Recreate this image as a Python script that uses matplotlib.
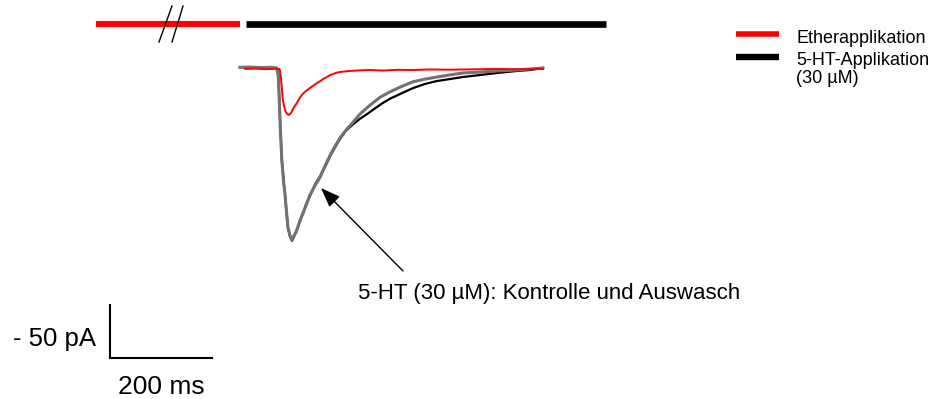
import matplotlib
matplotlib.use("Agg")
import matplotlib.pyplot as plt

plt.rcParams["font.family"] = ["Liberation Sans", "DejaVu Sans"]

# Whole-cell currents, time in ms from start of sweep, current in pA
t_ctrl = [0, 20, 40, 60, 72, 75, 77, 79, 82, 86, 88, 90, 94, 98, 102, 106, 110,
          114, 118, 124, 130, 137, 147, 157, 167, 177, 186, 196, 208, 222, 235,
          255, 275, 294, 314, 339, 363, 386, 412, 437, 471, 504, 543, 569, 594]
i_ctrl = [0.6, 0.9, 0.3, 0.7, 0.0, -7, -30, -56, -87, -110, -118, -129, -150,
          -158, -162, -158, -155, -149, -144, -136, -129, -120, -111, -103, -92,
          -82, -74, -66, -58.5, -51, -43.5, -35, -27.5, -22.5, -18, -13, -10.5,
          -8.5, -6.5, -4.7, -3.8, -2.8, -1.9, -0.9, 0.0]

t_wash = [0, 20, 40, 60, 72, 75, 77, 79, 82, 86, 88, 90, 94, 98, 102, 106, 110,
          114, 118, 124, 130, 137, 147, 157, 167, 177, 186, 196, 208, 222, 235,
          249, 265, 280, 294, 314, 339, 363, 386, 412, 437, 471, 504, 543, 569, 594]
i_wash = [0.9, 0.5, 0.8, 0.4, 0.0, -6, -28, -55, -86, -109, -118, -130, -151,
          -159, -163, -159, -154, -150, -143, -137, -128, -121, -110, -102, -93,
          -83, -75, -67, -59, -53, -48, -43.5, -38, -33, -29, -24.5, -19, -15,
          -12.3, -10.4, -8.5, -6.6, -4.7, -2.8, -1.9, 0.0]

t_ether = [10, 30, 50, 70, 77, 78, 80, 82, 84, 86, 88, 90, 93, 96, 100, 104,
           108, 112, 118, 124, 130, 137, 144, 151, 157, 163, 170, 177, 184, 190,
           200, 216, 235, 255, 280, 310, 339, 370, 412, 450, 504, 550, 594]
i_ether = [-0.9, -0.6, -1.1, -0.8, -0.9, -2, -8, -19, -30, -35, -39, -41.5,
           -43.5, -44.3, -42.5, -38.5, -35.5, -32.5, -27.5, -24, -21.5, -18.9,
           -16.5, -14.2, -12.5, -10.4, -8.6, -6.6, -5.4, -4.3, -3.5, -2.8, -2.2,
           -1.9, -2.4, -1.7, -1.9, -1.4, -1.6, -1.3, -0.9, -1.2, -0.9]

# Application periods (ms) drawn as bars above the traces
ether_period = [-282, 0]
ht_period = [12, 718]

# Scale bar
scale_ms = 200
scale_pa = 50

PX_PER_MS = 0.51
PX_PER_PA = 1.06
W, H = 943, 399
X0, Y0 = 240, 68  # sweep origin inside the canvas


def px(x, y):
    """Canvas pixel position -> (ms, pA) in the plot's data frame."""
    return (x - X0) / PX_PER_MS, -(y - Y0) / PX_PER_PA


fig = plt.figure(figsize=(W / 100, H / 100), dpi=100)
ax = fig.add_axes([0, 0, 1, 1])
ax.set_xlim(-X0 / PX_PER_MS, (W - X0) / PX_PER_MS)
ax.set_ylim(-(H - Y0) / PX_PER_PA, Y0 / PX_PER_PA)
ax.axis("off")

# traces
ax.plot(t_wash, i_wash, color="black", lw=1.6, zorder=2)
ax.plot(t_ctrl, i_ctrl, color="#727272", lw=2.2, zorder=3)
ax.plot(t_ether, i_ether, color="#ff0000", lw=1.4, zorder=4)

# application bars
_, bar_y = px(0, 24)
ax.plot(ether_period, [bar_y, bar_y], color="#ff0000", lw=4.4,
        solid_capstyle="butt")
ax.plot(ht_period, [bar_y, bar_y], color="black", lw=4.8,
        solid_capstyle="butt")
# break marks on the ether bar
for xb, xt in [(159, 172), (172, 183)]:
    p0 = px(xb, 42)
    p1 = px(xt, 6)
    ax.plot([p0[0], p1[0]], [p0[1], p1[1]], color="black", lw=1.0)

# legend
for y, col, lw in [(34, "#ff0000", 4.0), (57, "black", 4.6)]:
    a = px(736, y)
    b = px(779, y)
    ax.plot([a[0], b[0]], [a[1], b[1]], color=col, lw=lw,
            solid_capstyle="butt")
for y, txt in [(43, "Etherapplikation"), (65, "5-HT-Applikation"),
               (83, "(30 µM)")]:
    x, yy = px(796, y)
    ax.text(x, yy, txt, fontsize=13, ha="left", va="baseline")

# annotation arrow
tip = px(321, 188)
tail = px(403, 271)
ax.annotate("", xy=tip, xytext=tail,
            arrowprops=dict(arrowstyle="-|>,head_length=0.8,head_width=0.3",
                            mutation_scale=15, color="black", lw=1.0,
                            shrinkA=0, shrinkB=0))
x, y = px(358, 299)
ax.text(x, y, "5-HT (30 µM): Kontrolle und Auswasch", fontsize=16,
        ha="left", va="baseline")

# scale bar
sx, sy = px(110, 358)
ax.plot([sx, sx, sx + scale_ms], [sy + scale_pa, sy, sy], color="black",
        lw=1.5, solid_joinstyle="miter")
x, y = px(96, 346)
ax.text(x, y, f"- {scale_pa} pA", fontsize=18.5, ha="right", va="baseline")
x, y = px(161, 394)
ax.text(x, y, f"{scale_ms} ms", fontsize=19, ha="center", va="baseline")

fig.savefig("out.png", dpi=100)
